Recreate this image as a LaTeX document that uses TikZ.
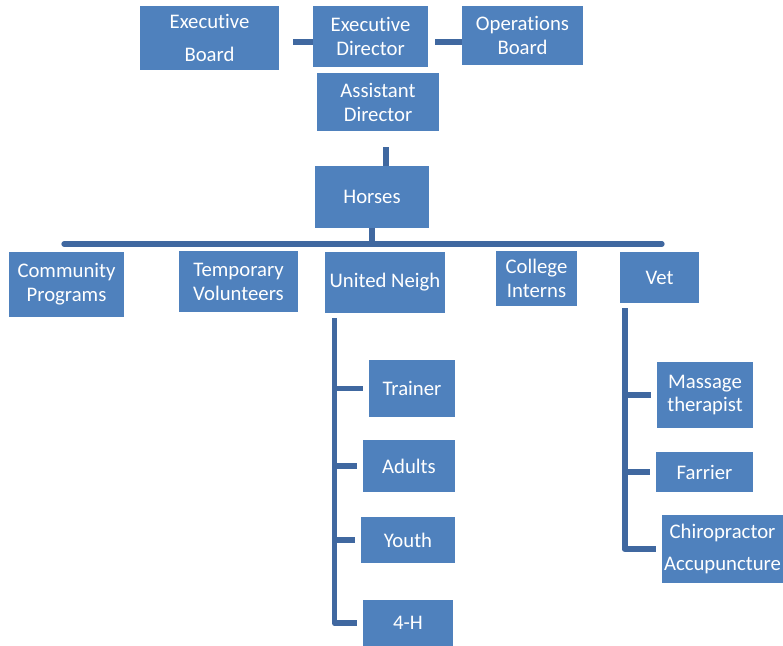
\documentclass[tikz,border=0pt]{standalone}
\usepackage{fontspec}
\setmainfont{Carlito}[RawFeature={-liga;-clig;-calt;-dlig}]
\usepackage{xcolor}
\definecolor{boxblue}{RGB}{79,129,189}
\definecolor{linkblue}{RGB}{64,104,160}

\begin{document}
\begin{tikzpicture}[x=0.02cm, y=-0.02cm,
    box/.style={fill=boxblue, text=white, align=center, inner sep=0pt,
        font=\fontsize{11.8}{13.6}\selectfont},
    link/.style={draw=linkblue, line width=3.4pt, line join=round},
    stub/.style={link, shorten >=3pt}]
    \useasboundingbox (0,0) rectangle (783,645);

    % Top row
    \node[box, minimum width=139*0.02cm, minimum height=64*0.02cm] (eb) at (209.5,38) {Executive\\[5pt]Board};
    \node[box, minimum width=115*0.02cm, minimum height=61*0.02cm] (ed) at (370.5,36.5) {Executive\\Director};
    \node[box, minimum width=121*0.02cm, minimum height=59*0.02cm] (ob) at (522.5,35.5) {Operations\\Board};
    \node[box, minimum width=122*0.02cm, minimum height=58*0.02cm] (ad) at (378,102) {Assistant\\Director};
    \node[box, minimum width=114*0.02cm, minimum height=62*0.02cm] (horses) at (372,197) {Horses};

    % Second row
    \node[box, minimum width=115*0.02cm, minimum height=65*0.02cm] (cp) at (66.5,284.5) {Community\\Programs};
    \node[box, minimum width=119*0.02cm, minimum height=61*0.02cm] (tv) at (238.5,281.5) {Temporary\\Volunteers};
    \node[box, minimum width=120*0.02cm, minimum height=61*0.02cm] (un) at (385,282.5) {United Neigh};
    \node[box, minimum width=81*0.02cm, minimum height=55*0.02cm] (ci) at (536.5,278.5) {College\\Interns};
    \node[box, minimum width=79*0.02cm, minimum height=51*0.02cm] (vet) at (659.5,277.5) {Vet};

    % Under United Neigh
    \node[box, minimum width=86*0.02cm, minimum height=57*0.02cm] (trainer) at (412,388.5) {Trainer};
    \node[box, minimum width=92*0.02cm, minimum height=52*0.02cm] (adults) at (409,466) {Adults};
    \node[box, minimum width=94*0.02cm, minimum height=46*0.02cm] (youth) at (408,540) {Youth};
    \node[box, minimum width=90*0.02cm, minimum height=46*0.02cm] (fourh) at (408,623) {4-H};

    % Under Vet
    \node[box, minimum width=96*0.02cm, minimum height=66*0.02cm] (massage) at (705,395) {Massage\\therapist};
    \node[box, minimum width=97*0.02cm, minimum height=40*0.02cm] (farrier) at (704.5,472) {Farrier};
    \node[box, minimum width=121*0.02cm, minimum height=68*0.02cm] (chiro) at (722.5,549) {Chiropractor\\[5pt]Accupuncture};

    % Links at the top
    \draw[link] (ed.west |- 0,42) -- ++(-20,0);
    \draw[link] (ob.west |- 0,42) -- ++(-27,0);
    \draw[link] (horses.north -| 386,0) -- ++(0,-19);
    \draw[link] (horses.south) -- ++(0,15);

    % Bar over the second row
    \coordinate (barL) at (64,244);
    \coordinate (barR) at (662,244);
    \draw[link, line width=3pt, line cap=round] (barL) -- (barR);

    % United Neigh branch
    \coordinate (unTop) at (334.5,318);
    \draw[stub] (unTop) |- (fourh.west);
    \draw[stub] (trainer.west -| unTop) -- (trainer.west);
    \draw[stub] (adults.west -| unTop) -- (adults.west);
    \draw[stub] (youth.west -| unTop) -- (youth.west);

    % Vet branch
    \coordinate (vetTop) at (624.5,308);
    \draw[stub] (vetTop) |- (chiro.west);
    \draw[stub] (massage.west -| vetTop) -- (massage.west);
    \draw[stub] (farrier.west -| vetTop) -- (farrier.west);
\end{tikzpicture}
\end{document}
